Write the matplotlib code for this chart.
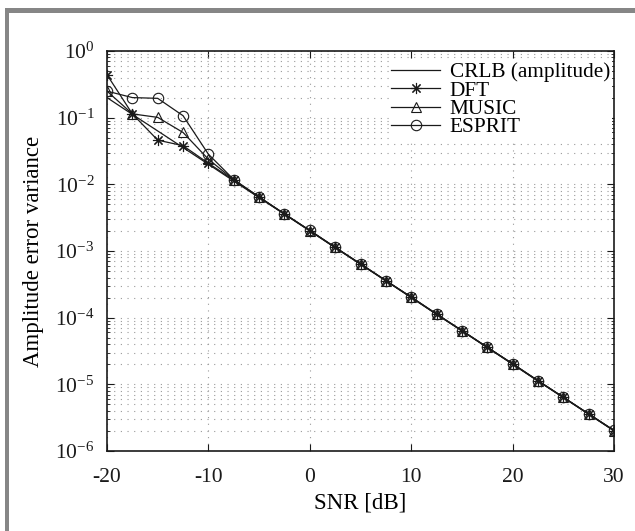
import matplotlib
matplotlib.use('Agg')
import matplotlib.pyplot as plt
from matplotlib.patches import Rectangle
from matplotlib.ticker import LogLocator, NullFormatter, FixedLocator

plt.rcParams['font.family'] = ['Liberation Serif', 'DejaVu Serif']
plt.rcParams['mathtext.fontset'] = 'custom'
plt.rcParams['mathtext.rm'] = 'Liberation Serif'
plt.rcParams['mathtext.it'] = 'Liberation Serif'
plt.rcParams['axes.unicode_minus'] = False

# SNR axis [dB]
snr = [-20, -17.5, -15, -12.5, -10, -7.5, -5, -2.5, 0, 2.5, 5, 7.5,
       10, 12.5, 15, 17.5, 20, 22.5, 25, 27.5, 30]

crlb = [0.2, 0.112, 0.0632, 0.0356, 0.02, 0.0112, 0.00632, 0.00356, 0.002,
        1.12e-3, 6.32e-4, 3.56e-4, 2.0e-4, 1.12e-4, 6.32e-5, 3.56e-5,
        2.0e-5, 1.12e-5, 6.32e-6, 3.56e-6, 2.0e-6]
dft = [0.44, 0.114, 0.046, 0.038, 0.0207, 0.0116, 0.0064, 0.0036, 0.00202,
       1.13e-3, 6.4e-4, 3.6e-4, 2.02e-4, 1.13e-4, 6.4e-5, 3.6e-5,
       2.02e-5, 1.13e-5, 6.4e-6, 3.6e-6, 2.02e-6]
music = [0.25, 0.114, 0.101, 0.060, 0.0238, 0.0117, 0.0064, 0.0036, 0.00203,
         1.13e-3, 6.4e-4, 3.6e-4, 2.03e-4, 1.13e-4, 6.4e-5, 3.6e-5,
         2.03e-5, 1.13e-5, 6.4e-6, 3.6e-6, 2.03e-6]
esprit = [0.25, 0.20, 0.195, 0.107, 0.0283, 0.0118, 0.0065, 0.0036, 0.00204,
          1.14e-3, 6.4e-4, 3.6e-4, 2.04e-4, 1.14e-4, 6.4e-5, 3.6e-5,
          2.04e-5, 1.14e-5, 6.4e-6, 3.6e-6, 2.04e-6]

xticks = [-20, -10, 0, 10, 20, 30]
yticks = [1e0, 1e-1, 1e-2, 1e-3, 1e-4, 1e-5, 1e-6]
ylabels = ['$10^{0}$', '$10^{-1}$', '$10^{-2}$', '$10^{-3}$',
           '$10^{-4}$', '$10^{-5}$', '$10^{-6}$']

fig = plt.figure(figsize=(6.35, 5.31), dpi=100)
ax = fig.add_axes([107/635, 80/531, 507/635, 400/531])

lc = '#1a1a1a'
ax.plot(snr, crlb, '-', color=lc, lw=0.9, label='CRLB (amplitude)')
ax.plot(snr, dft, '-', color=lc, lw=0.9, marker=(8, 2, 0), ms=8,
        mew=0.8, label='DFT')
ax.plot(snr, music, '-', color=lc, lw=0.9, marker='^', ms=7.5, mfc='none',
        mew=0.8, label='MUSIC')
ax.plot(snr, esprit, '-', color=lc, lw=0.9, marker='o', ms=7.5, mfc='none',
        mew=0.8, label='ESPRIT')

ax.set_yscale('log')
ax.set_xlim(-20, 30)
ax.set_ylim(1e-6, 1e0)
ax.xaxis.set_major_locator(FixedLocator(xticks))
ax.set_xticklabels([str(t) for t in xticks])
ax.yaxis.set_major_locator(FixedLocator(yticks))
ax.set_yticklabels(ylabels)
ax.yaxis.set_minor_locator(LogLocator(base=10, subs=range(2, 10), numticks=20))
ax.yaxis.set_minor_formatter(NullFormatter())

gstyle = dict(color='#9a9a9a', linestyle=(0, (1, 5)), linewidth=0.8)
ax.grid(True, which='major', axis='both', **gstyle)
ax.grid(True, which='minor', axis='y', **gstyle)

ax.tick_params(which='both', direction='in', top=True, right=True,
               colors='#1a1a1a', labelcolor='#1a1a1a', labelsize=15.5)
ax.tick_params(which='major', length=5, width=0.8)
ax.tick_params(which='minor', length=2.5, width=0.6)
ax.tick_params(axis='x', pad=12)
ax.tick_params(axis='y', pad=9)
for s in ax.spines.values():
    s.set_linewidth(1.2)
    s.set_color('#1a1a1a')

ax.set_xlabel('SNR [dB]', fontsize=16.5, labelpad=4)
ax.set_ylabel('Amplitude error variance', fontsize=16.5, labelpad=8)

leg = ax.legend(loc='upper right', bbox_to_anchor=(1.0, 0.982), fontsize=15.3,
                frameon=True, fancybox=False, framealpha=1, edgecolor='white',
                labelspacing=-0.07, handlelength=2.3, handletextpad=0.45,
                borderpad=0.1, borderaxespad=0.1, numpoints=1)
leg.get_frame().set_linewidth(0)

# gray frame of the cropped page
fig.add_artist(Rectangle((5/635, (531-12.7)/531), 630/635, 4.7/531,
                         transform=fig.transFigure, color='#868686', lw=0))
fig.add_artist(Rectangle((5/635, 0), 4/635, (531-8)/531,
                         transform=fig.transFigure, color='#868686', lw=0))

fig.savefig('out.png', dpi=100)
